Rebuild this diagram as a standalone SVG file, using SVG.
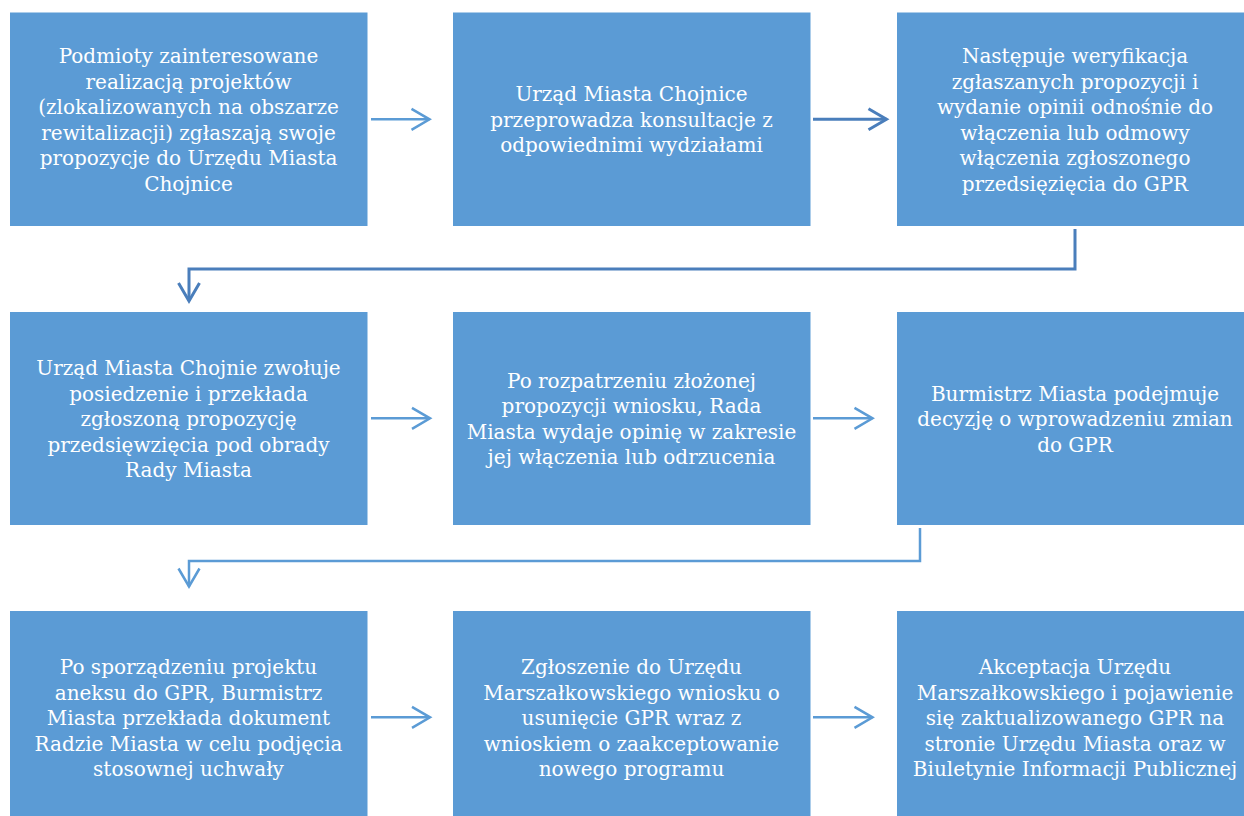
<svg xmlns="http://www.w3.org/2000/svg" width="1244" height="816" viewBox="0 0 1244 816">
<defs>
<style>
.box{fill:#5B9BD5;}
.t{font-family:"DejaVu Serif","Liberation Serif",serif;font-size:20px;fill:#FFFFFF;text-anchor:middle;}
.c{fill:none;stroke:#5B9BD5;stroke-width:2.5;}
.cd{fill:none;stroke:#4A7EBB;stroke-width:3;}
</style>
<marker id="ah" markerUnits="userSpaceOnUse" viewBox="-22 -14 26 28" markerWidth="26" markerHeight="28" refX="0" refY="0" orient="auto">
<path d="M-18,-10.5 L0,0 L-18,10.5" fill="none" stroke="#5B9BD5" stroke-width="2.5"/>
</marker>
<marker id="ahd" markerUnits="userSpaceOnUse" viewBox="-22 -14 26 28" markerWidth="26" markerHeight="28" refX="0" refY="0" orient="auto">
<path d="M-18,-10.5 L0,0 L-18,10.5" fill="none" stroke="#4A7EBB" stroke-width="3"/>
</marker>
</defs>
<rect width="1244" height="816" fill="#FFFFFF"/>
<g id="connectors">
<path class="c" d="M371,119.3 H429.5" marker-end="url(#ah)"/>
<path class="cd" d="M813,119.3 H886.5" marker-end="url(#ahd)"/>
<path class="cd" d="M1075,229 V269 H189 V301" marker-end="url(#ahd)"/>
<path class="c" d="M371,418.3 H430" marker-end="url(#ah)"/>
<path class="c" d="M813,418.3 H872.5" marker-end="url(#ah)"/>
<path class="c" d="M920,528 V561 H189 V586.5" marker-end="url(#ah)"/>
<path class="c" d="M371,717.3 H430" marker-end="url(#ah)"/>
<path class="c" d="M813,717.3 H872.5" marker-end="url(#ah)"/>
</g>
<g id="n1">
<rect class="box" x="10" y="12.5" width="357.5" height="213.5"/>
<text class="t" x="188.5" y="63.3">Podmioty zainteresowane</text>
<text class="t" x="188.5" y="88.8">realizacją projektów</text>
<text class="t" x="188.5" y="114.3">(zlokalizowanych na obszarze</text>
<text class="t" x="188.5" y="139.8">rewitalizacji) zgłaszają swoje</text>
<text class="t" x="188.5" y="165.3">propozycje do Urzędu Miasta</text>
<text class="t" x="188.5" y="190.8">Chojnice</text>
</g>
<g id="n2">
<rect class="box" x="453" y="12.5" width="357.5" height="213.5"/>
<text class="t" x="631.5" y="101.3">Urząd Miasta Chojnice</text>
<text class="t" x="631.5" y="126.8">przeprowadza konsultacje z</text>
<text class="t" x="631.5" y="152.3">odpowiednimi wydziałami</text>
</g>
<g id="n3">
<rect class="box" x="897" y="12.5" width="357.5" height="213.5"/>
<text class="t" x="1075" y="63.3">Następuje weryfikacja</text>
<text class="t" x="1075" y="88.8">zgłaszanych propozycji i</text>
<text class="t" x="1075" y="114.3">wydanie opinii odnośnie do</text>
<text class="t" x="1075" y="139.8">włączenia lub odmowy</text>
<text class="t" x="1075" y="165.3">włączenia zgłoszonego</text>
<text class="t" x="1075" y="190.8">przedsięzięcia do GPR</text>
</g>
<g id="n4">
<rect class="box" x="10" y="312" width="357.5" height="213"/>
<text class="t" x="188.5" y="375">Urząd Miasta Chojnie zwołuje</text>
<text class="t" x="188.5" y="400.5">posiedzenie i przekłada</text>
<text class="t" x="188.5" y="426">zgłoszoną propozycję</text>
<text class="t" x="188.5" y="451.5">przedsięwzięcia pod obrady</text>
<text class="t" x="188.5" y="477">Rady Miasta</text>
</g>
<g id="n5">
<rect class="box" x="453" y="312" width="357.5" height="213"/>
<text class="t" x="631.5" y="387.8">Po rozpatrzeniu złożonej</text>
<text class="t" x="631.5" y="413.3">propozycji wniosku, Rada</text>
<text class="t" x="631.5" y="438.8">Miasta wydaje opinię w zakresie</text>
<text class="t" x="631.5" y="464.3">jej włączenia lub odrzucenia</text>
</g>
<g id="n6">
<rect class="box" x="897" y="312" width="357.5" height="213"/>
<text class="t" x="1075" y="400.5">Burmistrz Miasta podejmuje</text>
<text class="t" x="1075" y="426">decyzję o wprowadzeniu zmian</text>
<text class="t" x="1075" y="451.5">do GPR</text>
</g>
<g id="n7">
<rect class="box" x="10" y="611" width="357.5" height="214"/>
<text class="t" x="188.5" y="674">Po sporządzeniu projektu</text>
<text class="t" x="188.5" y="699.5">aneksu do GPR, Burmistrz</text>
<text class="t" x="188.5" y="725">Miasta przekłada dokument</text>
<text class="t" x="188.5" y="750.5">Radzie Miasta w celu podjęcia</text>
<text class="t" x="188.5" y="776">stosownej uchwały</text>
</g>
<g id="n8">
<rect class="box" x="453" y="611" width="357.5" height="214"/>
<text class="t" x="631.5" y="674">Zgłoszenie do Urzędu</text>
<text class="t" x="631.5" y="699.5">Marszałkowskiego wniosku o</text>
<text class="t" x="631.5" y="725">usunięcie GPR wraz z</text>
<text class="t" x="631.5" y="750.5">wnioskiem o zaakceptowanie</text>
<text class="t" x="631.5" y="776">nowego programu</text>
</g>
<g id="n9">
<rect class="box" x="897" y="611" width="357.5" height="214"/>
<text class="t" x="1075" y="674">Akceptacja Urzędu</text>
<text class="t" x="1075" y="699.5">Marszałkowskiego i pojawienie</text>
<text class="t" x="1075" y="725">się zaktualizowanego GPR na</text>
<text class="t" x="1075" y="750.5">stronie Urzędu Miasta oraz w</text>
<text class="t" x="1075" y="776">Biuletynie Informacji Publicznej</text>
</g>
</svg>
